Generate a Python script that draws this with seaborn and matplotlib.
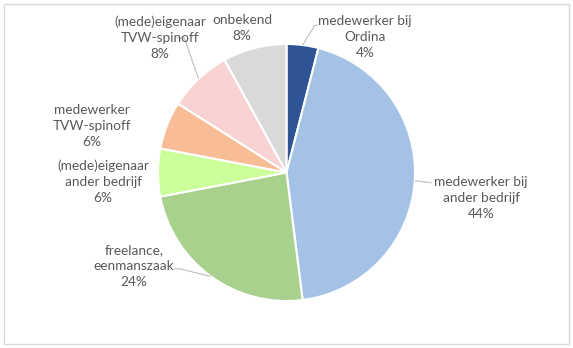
import numpy as np
import matplotlib
matplotlib.use("Agg")
import matplotlib.pyplot as plt
from matplotlib.patches import Rectangle
import seaborn as sns

# Category data
categories = [
    "medewerker bij\nOrdina",
    "medewerker bij\nander bedrijf",
    "freelance,\neenmanszaak",
    "(mede)eigenaar\nander bedrijf",
    "medewerker\nTVW-spinoff",
    "(mede)eigenaar\nTVW-spinoff",
    "onbekend",
]
shares = [4, 44, 24, 6, 6, 8, 8]
colors = ["#2F5496", "#A4C2E6", "#A9D18E", "#CCFF99", "#F8BC96", "#F9D3D4", "#D9D9D9"]

# Label layout (pie radius units) and which labels get a leader line
label_pos = [(0.611, 1.054), (1.514, -0.195), (-1.187, -0.728), (-1.428, -0.074),
             (-1.514, 0.362), (-0.984, 1.047), (-0.346, 1.125)]
leader_from = [(0.245, 1.146), None, (-0.872, -0.749), None, None, (-0.850, 1.047), None]
leader_bend = [(0.222, 1.146), (1.13, -0.08), (-0.832, -0.749), None, None, (-0.795, 1.047), None]

sns.set_theme(style="white")
plt.rcParams["font.family"] = ["Lato", "DejaVu Sans"]

W, H = 573, 348
fig = plt.figure(figsize=(W / 100, H / 100), dpi=100)
ax = fig.add_axes([0, 0, 1, 1])

cx, cy, r = 286.5, 172.5, 128.5

wedges, _ = ax.pie(shares, colors=colors, startangle=90, counterclock=False,
                   radius=1.0, center=(0, 0),
                   wedgeprops=dict(edgecolor="white", linewidth=1.5))
ax.set_xlim(-cx / r, (W - cx) / r)
ax.set_ylim(-(H - cy) / r, cy / r)
ax.set_aspect("equal")
ax.axis("off")

text_color = "#595959"
total = sum(shares)
cum = np.cumsum([0] + shares[:-1])
for i, (lab, val) in enumerate(zip(categories, shares)):
    x, y = label_pos[i]
    ax.text(x, y, f"{lab}\n{val}%", ha="center", va="center", fontsize=9.8,
            color=text_color, linespacing=1.4)
    if leader_bend[i] is not None:
        mid = np.deg2rad(90 - 360 * (cum[i] + val / 2) / total)
        px, py = np.cos(mid), np.sin(mid)
        pts = []
        if leader_from[i] is not None:
            pts.append(leader_from[i])
        pts.append(leader_bend[i])
        pts.append((px, py))
        xs, ys = zip(*pts)
        ax.plot(xs, ys, color="#BFBFBF", lw=0.8, solid_capstyle="butt")

fig.patches.append(Rectangle((3.5 / W, 4 / H), 565.5 / W, 340 / H, transform=fig.transFigure,
                             fill=False, edgecolor="#D9D9D9", lw=1))
fig.savefig("out.png", dpi=100, facecolor="white")
